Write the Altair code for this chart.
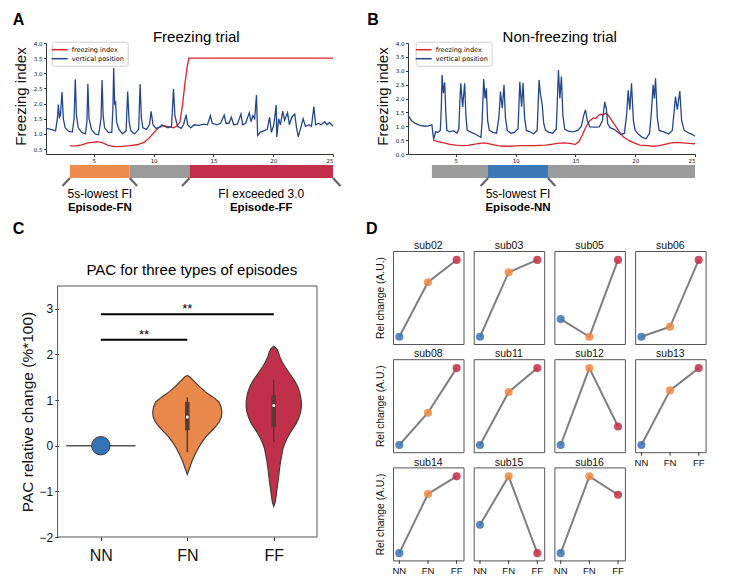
import altair as alt
import pandas as pd

FONT = "Liberation Sans"
TFONT = "DejaVu Sans"

C_FI = "#d7262b"
C_VP = "#23478e"
C_ORANGE = "#ee8b4e"
C_GRAY = "#9b9b9b"
C_CRIMSON = "#c32e4b"
C_BLUE = "#3b78b5"
C_V_OR = "#e8884a"
C_V_RED = "#c0304a"
C_OUT = "#4d3b35"
C_BOX = "#5a3b36"

# ---------------- Panel A : freezing trial ----------------
a_vp_x = [1.0, 1.4, 1.8, 1.95, 2.03, 2.12, 2.2, 2.34, 2.45, 2.6, 2.9, 3.2, 3.35, 3.45, 3.55, 3.7,
          4.0, 4.3, 4.42, 4.5, 4.6, 4.8, 5.1, 5.4, 5.6, 5.69, 5.78, 5.9, 6.2, 6.5, 6.6, 6.66, 6.74,
          6.82, 6.9, 7.1, 7.4, 7.7, 7.83, 7.95, 8.1, 8.4, 8.75, 8.87, 8.98, 9.1, 9.4, 9.65, 9.79,
          9.95, 10.2, 10.5, 10.7, 10.9, 11.2, 11.5, 11.66, 11.78, 12.0, 12.3, 12.5, 12.72, 12.85,
          13.1, 13.4, 13.8, 14.2, 14.5, 14.75, 14.9, 15.3, 15.6, 15.9, 16.05, 16.3, 16.5, 16.7,
          17.0, 17.3, 17.45, 17.7, 18.0, 18.15, 18.3, 18.45, 18.6, 18.7, 18.9, 19.2, 19.5, 19.7,
          19.85, 20.05, 20.25, 20.3, 20.45, 20.6, 20.8, 20.95, 21.2, 21.35, 21.55, 21.8, 21.95,
          22.1, 22.3, 22.5, 22.7, 23.0, 23.2, 23.4, 23.55, 23.8, 24.0, 24.3, 24.5, 24.7, 25.0]
a_vp_y = [1.18, 1.15, 1.1, 1.5, 1.97, 1.55, 1.6, 2.38, 1.5, 1.2, 1.08, 1.06, 1.5, 2.8, 1.6, 1.2,
          1.05, 1.0, 1.4, 2.65, 1.5, 1.15, 1.0, 0.97, 1.5, 2.78, 1.6, 1.2, 1.05, 1.05, 1.9, 3.17, 2.0,
          2.05, 1.4, 1.15, 1.0, 1.1, 2.4, 1.4, 1.1, 1.0, 1.15, 2.64, 1.5, 1.2, 1.15, 1.3, 1.74,
          1.3, 1.18, 1.22, 1.3, 1.25, 1.2, 1.25, 2.49, 1.6, 1.25, 1.18, 1.3, 1.63, 1.3,
          1.2, 1.3, 1.28, 1.32, 1.3, 1.6, 1.35, 1.3, 1.35, 1.62, 1.35, 1.35, 1.55, 1.3,
          1.32, 1.65, 1.3, 1.35, 1.7, 1.4, 1.6, 1.5, 2.28, 0.95, 1.05, 1.1, 1.15, 1.55,
          1.05, 1.3, 1.95, 0.9, 1.5, 1.3, 1.75, 1.45, 1.7, 1.3, 1.55, 1.65, 1.2,
          0.9, 1.2, 1.5, 1.25, 1.3, 1.25, 1.9, 1.3, 1.35, 1.3, 1.4, 1.3, 1.38, 1.25]
a_fi_x = [3.0, 3.5, 4.0, 4.5, 5.0, 5.3, 5.7, 6.2, 6.7, 7.3, 8.0, 8.6, 9.2, 9.6, 10.0, 10.4, 10.8,
          11.2, 11.7, 12.0, 12.2, 12.4, 12.6, 12.8, 12.95, 25.0]
a_fi_y = [0.6, 0.6, 0.64, 0.7, 0.73, 0.74, 0.71, 0.62, 0.58, 0.59, 0.61, 0.64, 0.72, 0.85, 1.03,
          1.2, 1.27, 1.24, 1.2, 1.28, 1.4, 1.9, 2.6, 3.2, 3.5, 3.5]
a_seg_start = [3, 8, 13]
a_seg_end = [8, 13, 25]
a_seg_col = [C_ORANGE, C_GRAY, C_CRIMSON]
a_ep_center = [5.5, 19.0]
a_ep_label = ["5s-lowest FI", "FI exceeded 3.0"]
a_ep_name = ["Episode-FN", "Episode-FF"]
a_tick_x = [3, 8, 13, 25]
a_tick_dir = [-1, 1, -1, 1]

# ---------------- Panel B : non-freezing trial ----------------
b_vp_x = [1.0, 1.3, 1.6, 2.0, 2.4, 2.8, 3.0, 3.08, 3.15, 3.3, 3.5, 3.7, 3.78, 3.85, 3.96, 4.07,
          4.16, 4.25, 4.5, 4.8, 5.1, 5.25, 5.33, 5.41, 5.57, 5.74, 5.84, 5.95, 6.3, 6.6, 6.9, 7.1,
          7.2, 7.33, 7.44, 7.55, 7.66, 7.8, 8.1, 8.4, 8.6, 8.73, 8.88, 9.03, 9.15, 9.3, 9.6, 9.9,
          10.2, 10.35, 10.5, 10.62, 10.75, 10.9, 11.2, 11.5, 11.8, 11.96, 12.08, 12.21, 12.35,
          12.5, 12.8, 13.1, 13.4, 13.58, 13.7, 13.83, 13.95, 14.1, 14.4, 14.8, 15.2, 15.5, 15.7,
          15.84, 16.0, 16.2, 16.6, 17.0, 17.25, 17.46, 17.52, 17.57, 17.7, 17.9, 18.2, 18.5,
          18.8, 19.1, 19.3, 19.41, 19.55, 19.69, 19.85, 20.0, 20.3, 20.6, 20.9, 21.2, 21.35,
          21.5, 21.6, 21.7, 21.85, 22.0, 22.4, 22.8, 23.1, 23.25, 23.37, 23.52, 23.73, 23.88,
          24.1, 24.5, 24.8, 25.0]
b_vp_y = [1.4, 1.2, 1.1, 1.03, 1.0, 1.02, 1.05, 0.75, 0.53, 0.8, 0.78, 0.85, 1.6, 2.85, 2.19, 2.58,
          1.5, 0.85, 0.8, 0.84, 0.75, 0.9, 1.8, 2.55, 1.7, 2.55, 1.4, 0.85, 0.78, 0.72, 0.65, 0.6,
          1.2, 2.7, 2.0, 2.37, 1.2, 0.85, 0.78, 0.75, 1.3, 2.25, 1.65, 2.49, 1.3, 0.85, 0.75, 0.78,
          0.9, 2.6, 1.7, 2.57, 1.3, 0.85, 0.8, 0.72, 0.85, 2.67, 2.13, 1.83, 1.1,
          0.85, 0.78, 0.75, 0.9, 3.03, 2.0, 2.79, 1.4, 0.9, 0.82, 0.8, 0.85, 1.0, 1.4,
          1.59, 1.2, 0.98, 0.97, 0.98, 1.2, 1.88, 1.7, 1.7, 1.1, 0.95, 0.9, 0.8,
          0.7, 0.75, 1.5, 2.3, 1.6, 2.55, 1.2, 0.85, 0.7, 0.6, 0.55, 0.75, 1.5,
          2.49, 2.0, 2.73, 1.3, 0.85, 0.8, 0.72, 0.85, 1.5, 2.07, 1.6, 2.27, 1.2,
          0.85, 0.75, 0.7, 0.64]
b_fi_x = [3.09, 3.5, 4.0, 4.5, 5.0, 5.5, 6.0, 6.5, 7.0, 7.4, 8.0, 8.5, 9.0, 9.5, 10.0, 10.5, 11.0,
          11.5, 12.0, 12.5, 13.0, 13.5, 14.0, 14.5, 15.0, 15.3, 15.6, 15.9, 16.2, 16.5, 16.7, 16.9,
          17.1, 17.3, 17.5, 17.7, 17.9, 18.2, 18.6, 19.0, 19.5, 20.0, 20.4, 21.0, 21.5, 22.0, 22.5,
          23.0, 23.5, 24.0, 24.5, 25.0]
b_fi_y = [0.5, 0.45, 0.4, 0.35, 0.32, 0.3, 0.31, 0.35, 0.38, 0.4, 0.35, 0.3, 0.28, 0.28, 0.29, 0.3,
          0.3, 0.3, 0.31, 0.32, 0.35, 0.38, 0.4, 0.38, 0.35, 0.45, 0.7, 1.0, 1.2, 1.3, 1.28, 1.38,
          1.43, 1.4, 1.47, 1.42, 1.3, 1.1, 0.85, 0.62, 0.48, 0.38, 0.32, 0.3, 0.28, 0.3, 0.35,
          0.4, 0.42, 0.4, 0.38, 0.37]
b_seg_start = [3, 7.7]
b_seg_end = [25, 12.7]
b_seg_col = [C_GRAY, C_BLUE]
b_ep_center = [10.2]
b_ep_label = ["5s-lowest FI"]
b_ep_name = ["Episode-NN"]
b_tick_x = [7.7, 12.7]
b_tick_dir = [-1, 1]

# ---------------- Panel C : violins ----------------
cats = ["NN", "FN", "FF"]
fn_v = [1.54, 1.50, 1.45, 1.40, 1.30, 1.18, 1.07, 0.96, 0.85, 0.74, 0.63, 0.52, 0.41, 0.30, 0.19,
        0.07, -0.06, -0.20, -0.35, -0.50, -0.63]
fn_hw = [0.0, 0.035, 0.058, 0.087, 0.138, 0.211, 0.294, 0.366, 0.39, 0.40, 0.394, 0.369, 0.323,
         0.269, 0.213, 0.167, 0.125, 0.087, 0.052, 0.025, 0.0]
ff_v = [2.18, 2.12, 2.05, 1.95, 1.83, 1.72, 1.61, 1.50, 1.40, 1.29, 1.18, 1.07, 0.96, 0.85, 0.74,
        0.60, 0.49, 0.38, 0.27, 0.16, 0.05, -0.06, -0.21, -0.36, -0.50, -0.65, -0.80, -0.94, -1.05,
        -1.16, -1.25, -1.33]
ff_hw = [0.0, 0.035, 0.052, 0.069, 0.098, 0.133, 0.173, 0.213, 0.248, 0.277, 0.298, 0.311, 0.319,
         0.319, 0.311, 0.288, 0.26, 0.223, 0.185, 0.153, 0.127, 0.107, 0.092, 0.077, 0.067, 0.058,
         0.048, 0.038, 0.03, 0.023, 0.014, 0.0]
nn_value = [0.0]
nn_halfwidth = [0.4]
box_pos = [1, 2]
box_q1 = [0.34, 0.40]
box_q3 = [0.96, 1.10]
box_lo = [-0.14, 0.08]
box_hi = [1.06, 1.45]
box_med = [0.63, 0.88]
sig_x1 = [0, 0]
sig_x2 = [1, 2]
sig_y = [2.32, 2.88]
sig_txt = ["**", "**"]
c_xlim = [-0.5, 2.5]
c_ylim = [-2.0, 3.5]

# ---------------- Panel D : per-subject ----------------
subjects = ["sub02", "sub03", "sub05", "sub06", "sub08", "sub11", "sub12", "sub13", "sub14",
            "sub15", "sub16"]
d_nn = [0.0, 0.0, 0.23, 0.0, 0.0, 0.0, 0.0, 0.0, 0.0, 0.37, 0.0]
d_fn = [0.71, 0.84, 0.0, 0.13, 0.42, 0.69, 1.0, 0.71, 0.77, 1.0, 1.0]
d_ff = [1.0, 1.0, 1.0, 1.0, 1.0, 1.0, 0.24, 1.0, 1.0, 0.0, 0.76]
d_colors = ["#3d74b4", "#f08a45", "#c23049"]
d_bottom = ["sub13", "sub14", "sub15", "sub16"]

label_expr = "[" + ",".join("'%s'" % c for c in cats) + "][datum.value]"

W_AB, H_AB = 287, 111


def trial_chart(vp_x, vp_y, fi_x, fi_y, y_dom, y_ticks, seg_s, seg_e, seg_c, ep_c, ep_lab,
                ep_name, tk_x, tk_d, title, title_x, letter, letter_x, legend_x):
    xs = alt.Scale(domain=[1, 25], nice=False, zero=False)
    ys = alt.Scale(domain=y_dom, nice=False, zero=False)
    df_lines = pd.concat([
        pd.DataFrame({"t": fi_x, "v": fi_y, "series": "freezing index"}),
        pd.DataFrame({"t": vp_x, "v": vp_y, "series": "vertical position"}),
    ], ignore_index=True)
    df_lines["o"] = range(len(df_lines))
    lines = alt.Chart(df_lines).mark_line(strokeWidth=1.3).encode(
        x=alt.X("t:Q", scale=xs, axis=alt.Axis(values=[5, 10, 15, 20, 25], title=None,
                                               labelFontSize=5.5, labelFont=TFONT, tickSize=2.5,
                                               labelPadding=1.5)),
        y=alt.Y("v:Q", scale=ys, axis=alt.Axis(values=y_ticks, format=".1f", labelFontSize=5.5,
                                               labelFont=TFONT, tickSize=2.5, labelPadding=1.5,
                                               title="Freezing index", titleFontSize=15,
                                               titleX=-25.3, titleY=53, titleBaseline="middle")),
        color=alt.Color("series:N",
                        scale=alt.Scale(domain=["freezing index", "vertical position"],
                                        range=[C_FI, C_VP]),
                        legend=alt.Legend(orient="none", legendX=legend_x, legendY=-1.3, title=None,
                                          symbolType="M-2,0H2", symbolSize=64,
                                          symbolStrokeWidth=1.5, labelFontSize=6.5,
                                          labelFont=TFONT, padding=3, rowPadding=0,
                                          labelOffset=7, strokeColor="#d0d0d0",
                                          fillColor="white", cornerRadius=2)),
        order="o:Q",
    )
    seg_df = pd.DataFrame({"s": seg_s, "e": seg_e, "c": seg_c})
    bars = alt.Chart(seg_df).mark_rect().encode(
        x=alt.X("s:Q", scale=xs), x2="e:Q",
        y=alt.value(122), y2=alt.value(135),
        fill=alt.Fill("c:N", scale=None, legend=None))
    tk_df = pd.DataFrame({"t": tk_x, "d": tk_d})
    ticks = alt.Chart(tk_df).transform_calculate(t2="datum.t + datum.d * 0.62").mark_rule(
        strokeWidth=2.2, color="#666666").encode(
        x=alt.X("t:Q", scale=xs), x2="t2:Q", y=alt.value(135), y2=alt.value(143))
    ep_df = pd.DataFrame({"c": ep_c, "lab": ep_lab, "name": ep_name})
    lab = alt.Chart(ep_df).mark_text(font=FONT, fontSize=12, baseline="middle").encode(
        x=alt.X("c:Q", scale=xs), y=alt.value(151), text="lab:N")
    name = alt.Chart(ep_df).mark_text(font=FONT, fontSize=11.5, fontWeight="bold",
                                      baseline="middle").encode(
        x=alt.X("c:Q", scale=xs), y=alt.value(164.5), text="name:N")
    ttl = alt.Chart(pd.DataFrame({"s": [title]})).mark_text(
        font=FONT, fontSize=15, baseline="alphabetic").encode(
        x=alt.value(title_x), y=alt.value(-1.3), text="s:N")
    let = alt.Chart(pd.DataFrame({"s": [letter]})).mark_text(
        font=FONT, fontSize=16, fontWeight="bold", align="left", baseline="alphabetic").encode(
        x=alt.value(letter_x), y=alt.value(-18), text="s:N")
    return alt.layer(lines, bars, ticks, lab, name, ttl, let).properties(
        width=W_AB, height=H_AB, view=alt.ViewBackground(stroke=None))


chart_a = trial_chart(a_vp_x, a_vp_y, a_fi_x, a_fi_y, [0.335, 4.0],
                      [0.5, 1.0, 1.5, 2.0, 2.5, 3.0, 3.5, 4.0], a_seg_start, a_seg_end, a_seg_col,
                      a_ep_center, a_ep_label, a_ep_name, a_tick_x, a_tick_dir,
                      "Freezing trial", 150.3, "A", -33.3, 5.7)
chart_b = trial_chart(b_vp_x, b_vp_y, b_fi_x, b_fi_y, [0.0, 4.0],
                      [0.0, 0.5, 1.0, 1.5, 2.0, 2.5, 3.0, 3.5, 4.0], b_seg_start, b_seg_end,
                      b_seg_col, b_ep_center, b_ep_label, b_ep_name, b_tick_x, b_tick_dir,
                      "Non-freezing trial", 151.7, "B", -40.7, 7.7)

# ---------------- Panel C chart ----------------
W_C, H_C = 271, 286
cxs = alt.Scale(domain=[-0.634, 2.5], nice=False, zero=False)
cys = alt.Scale(domain=[-2.0, 4.267], nice=False, zero=False)

frame = alt.Chart(pd.DataFrame({"x0": [c_xlim[0]], "x1": [c_xlim[1]],
                                "y0": [c_ylim[0]], "y1": [c_ylim[1]]})).mark_rect(
    fillOpacity=0, stroke="#555555", strokeWidth=1).encode(
    x=alt.X("x0:Q", scale=cxs, axis=alt.Axis(values=[0, 1, 2], labelExpr=label_expr, title=None,
                                             domain=False, tickSize=3.5, labelFontSize=16,
                                             labelPadding=7)),
    x2="x1:Q",
    y=alt.Y("y0:Q", scale=cys, axis=alt.Axis(values=[-2, -1, 0, 1, 2, 3], offset=-12.3,
                                             domain=False, tickSize=3.5, labelFontSize=12,
                                             labelPadding=2, title="PAC relative change (%*100)",
                                             titleFontSize=15.5, titleX=-30.6, titleY=160.5,
                                             titleBaseline="middle")),
    y2="y1:Q")


def violin(pos, v, hw, col):
    df = pd.DataFrame({"v": v, "lo": [pos - h for h in hw], "hi": [pos + h for h in hw]})
    return alt.Chart(df).mark_area(orient="horizontal", fill=col, stroke=C_OUT,
                                   strokeWidth=1.2, opacity=1).encode(
        y=alt.Y("v:Q", scale=cys), x=alt.X("lo:Q", scale=cxs, stack=None), x2="hi:Q")


vio_fn = violin(1, fn_v, fn_hw, C_V_OR)
vio_ff = violin(2, ff_v, ff_hw, C_V_RED)

nn_df = pd.DataFrame({"pos": [0] * len(nn_value), "v": nn_value, "hw": nn_halfwidth})
nn_line = alt.Chart(nn_df).transform_calculate(
    lo="datum.pos - datum.hw", hi="datum.pos + datum.hw").mark_rule(
    color="#555555", strokeWidth=1.5).encode(
    x=alt.X("lo:Q", scale=cxs), x2="hi:Q", y=alt.Y("v:Q", scale=cys))
nn_dot = alt.Chart(nn_df).mark_point(filled=True, size=340, fill="#3274b5", stroke="#3a3a3a",
                                     strokeWidth=1, opacity=1).encode(
    x=alt.X("pos:Q", scale=cxs), y=alt.Y("v:Q", scale=cys))

box_df = pd.DataFrame({"pos": box_pos, "q1": box_q1, "q3": box_q3, "lo": box_lo, "hi": box_hi,
                       "med": box_med})
whisk = alt.Chart(box_df).mark_rule(color=C_BOX, strokeWidth=1.5).encode(
    x=alt.X("pos:Q", scale=cxs), y=alt.Y("lo:Q", scale=cys), y2="hi:Q")
boxr = alt.Chart(box_df).mark_rule(color=C_BOX, strokeWidth=4.5).encode(
    x=alt.X("pos:Q", scale=cxs), y=alt.Y("q1:Q", scale=cys), y2="q3:Q")
med = alt.Chart(box_df).mark_point(filled=True, color="white", size=9, opacity=1).encode(
    x=alt.X("pos:Q", scale=cxs), y=alt.Y("med:Q", scale=cys))

sig_df = pd.DataFrame({"x1": sig_x1, "x2": sig_x2, "y": sig_y, "t": sig_txt})
sig_rule = alt.Chart(sig_df).mark_rule(color="black", strokeWidth=2).encode(
    x=alt.X("x1:Q", scale=cxs), x2="x2:Q", y=alt.Y("y:Q", scale=cys))
sig_text = alt.Chart(sig_df).transform_calculate(xm="(datum.x1 + datum.x2) / 2").mark_text(
    font=FONT, fontSize=13, baseline="alphabetic", dy=-1).encode(
    x=alt.X("xm:Q", scale=cxs), y=alt.Y("y:Q", scale=cys), text="t:N")

c_title = alt.Chart(pd.DataFrame({"s": ["PAC for three types of episodes"]})).mark_text(
    font=FONT, fontSize=15, baseline="alphabetic").encode(
    x=alt.value(145.8), y=alt.value(23.7), text="s:N")
c_letters = alt.Chart(pd.DataFrame({"s": ["C", "D"], "px": [-33.3, 320.0]})).mark_text(
    font=FONT, fontSize=16, fontWeight="bold", align="left", baseline="alphabetic").encode(
    x=alt.X("px:Q", scale=None), y=alt.value(-17.3), text="s:N")

chart_c = alt.layer(frame, vio_fn, vio_ff, nn_line, nn_dot, whisk, boxr, med, sig_rule, sig_text,
                    c_title, c_letters).properties(
    width=W_C, height=H_C, view=alt.ViewBackground(stroke=None))

# ---------------- Panel D chart ----------------
d_rows = []
for i, s in enumerate(subjects):
    for j, (c, val) in enumerate(zip(cats, [d_nn[i], d_fn[i], d_ff[i]])):
        d_rows.append({"subject": s, "cond": c, "pos": j, "val": val})
d_df = pd.DataFrame(d_rows)
dxs = alt.Scale(domain=[-0.22, 2.24], nice=False, zero=False)
dys = alt.Scale(domain=[-0.094, 1.116], nice=False, zero=False)
D_W, D_H = 70.5, 93
bottom_filter = "indexof([" + ",".join("'%s'" % s for s in d_bottom) + "], datum.subject) >= 0"

d_line = alt.Chart().mark_line(color="#7f7f7f", strokeWidth=2).encode(
    x=alt.X("pos:Q", scale=dxs, axis=None),
    y=alt.Y("val:Q", scale=dys, axis=alt.Axis(labels=False, ticks=False, domain=False,
                                              title="Rel change (A.U.)", titleFontSize=10.3,
                                              titleX=-12.3, titleY=46.5,
                                              titleBaseline="middle")),
    order="pos:Q")
d_pts = alt.Chart().mark_circle(size=66, opacity=0.85).encode(
    x=alt.X("pos:Q", scale=dxs), y=alt.Y("val:Q", scale=dys),
    color=alt.Color("cond:N", scale=alt.Scale(domain=cats, range=d_colors), legend=None))
d_title = alt.Chart().transform_filter("datum.pos == 0").mark_text(
    font=FONT, fontSize=10.5, baseline="alphabetic", color="#111111").encode(
    x=alt.value(D_W / 2), y=alt.value(-1.8), text="subject:N")
d_xlab = alt.Chart().transform_filter(bottom_filter).mark_text(
    font=FONT, fontSize=9.5, baseline="middle", color="#111111").encode(
    x=alt.X("pos:Q", scale=dxs), y=alt.value(D_H + 10.5), text="cond:N")
d_xtick = alt.Chart().transform_filter(bottom_filter).mark_rule(
    color="#333333", strokeWidth=1).encode(
    x=alt.X("pos:Q", scale=dxs), y=alt.value(D_H), y2=alt.value(D_H + 3.5))

chart_d = alt.layer(d_line, d_pts, d_title, d_xlab, d_xtick, data=d_df).properties(
    width=D_W, height=D_H).facet(
    facet=alt.Facet("subject:N", sort=subjects,
                    header=alt.Header(title=None, labels=False, labelColor="transparent",
                                      labelFontSize=1, labelPadding=0)),
    columns=4, spacing={"row": 15.2, "column": 9.7}, bounds="flush")

row1 = alt.hconcat(chart_a, chart_b, spacing=25).resolve_scale(color="independent")
row2 = alt.hconcat(chart_c, chart_d, spacing=-3).resolve_scale(color="independent")
chart = alt.vconcat(row1, row2, spacing=7, padding={"left": 4, "top": 4, "right": 4, "bottom": 4}
                    ).resolve_scale(color="independent").configure_view(
    stroke="#555555", strokeWidth=1).configure_axis(
    grid=False, labelFont=FONT, titleFont=FONT, titleFontWeight="normal", domainColor="#333333",
    tickColor="#333333", labelColor="#111111", titleColor="#111111").configure_header(
    labelColor="transparent", labelFontSize=1, labels=False)

chart.save("out.html", embed_options={"renderer": "svg", "actions": False})
